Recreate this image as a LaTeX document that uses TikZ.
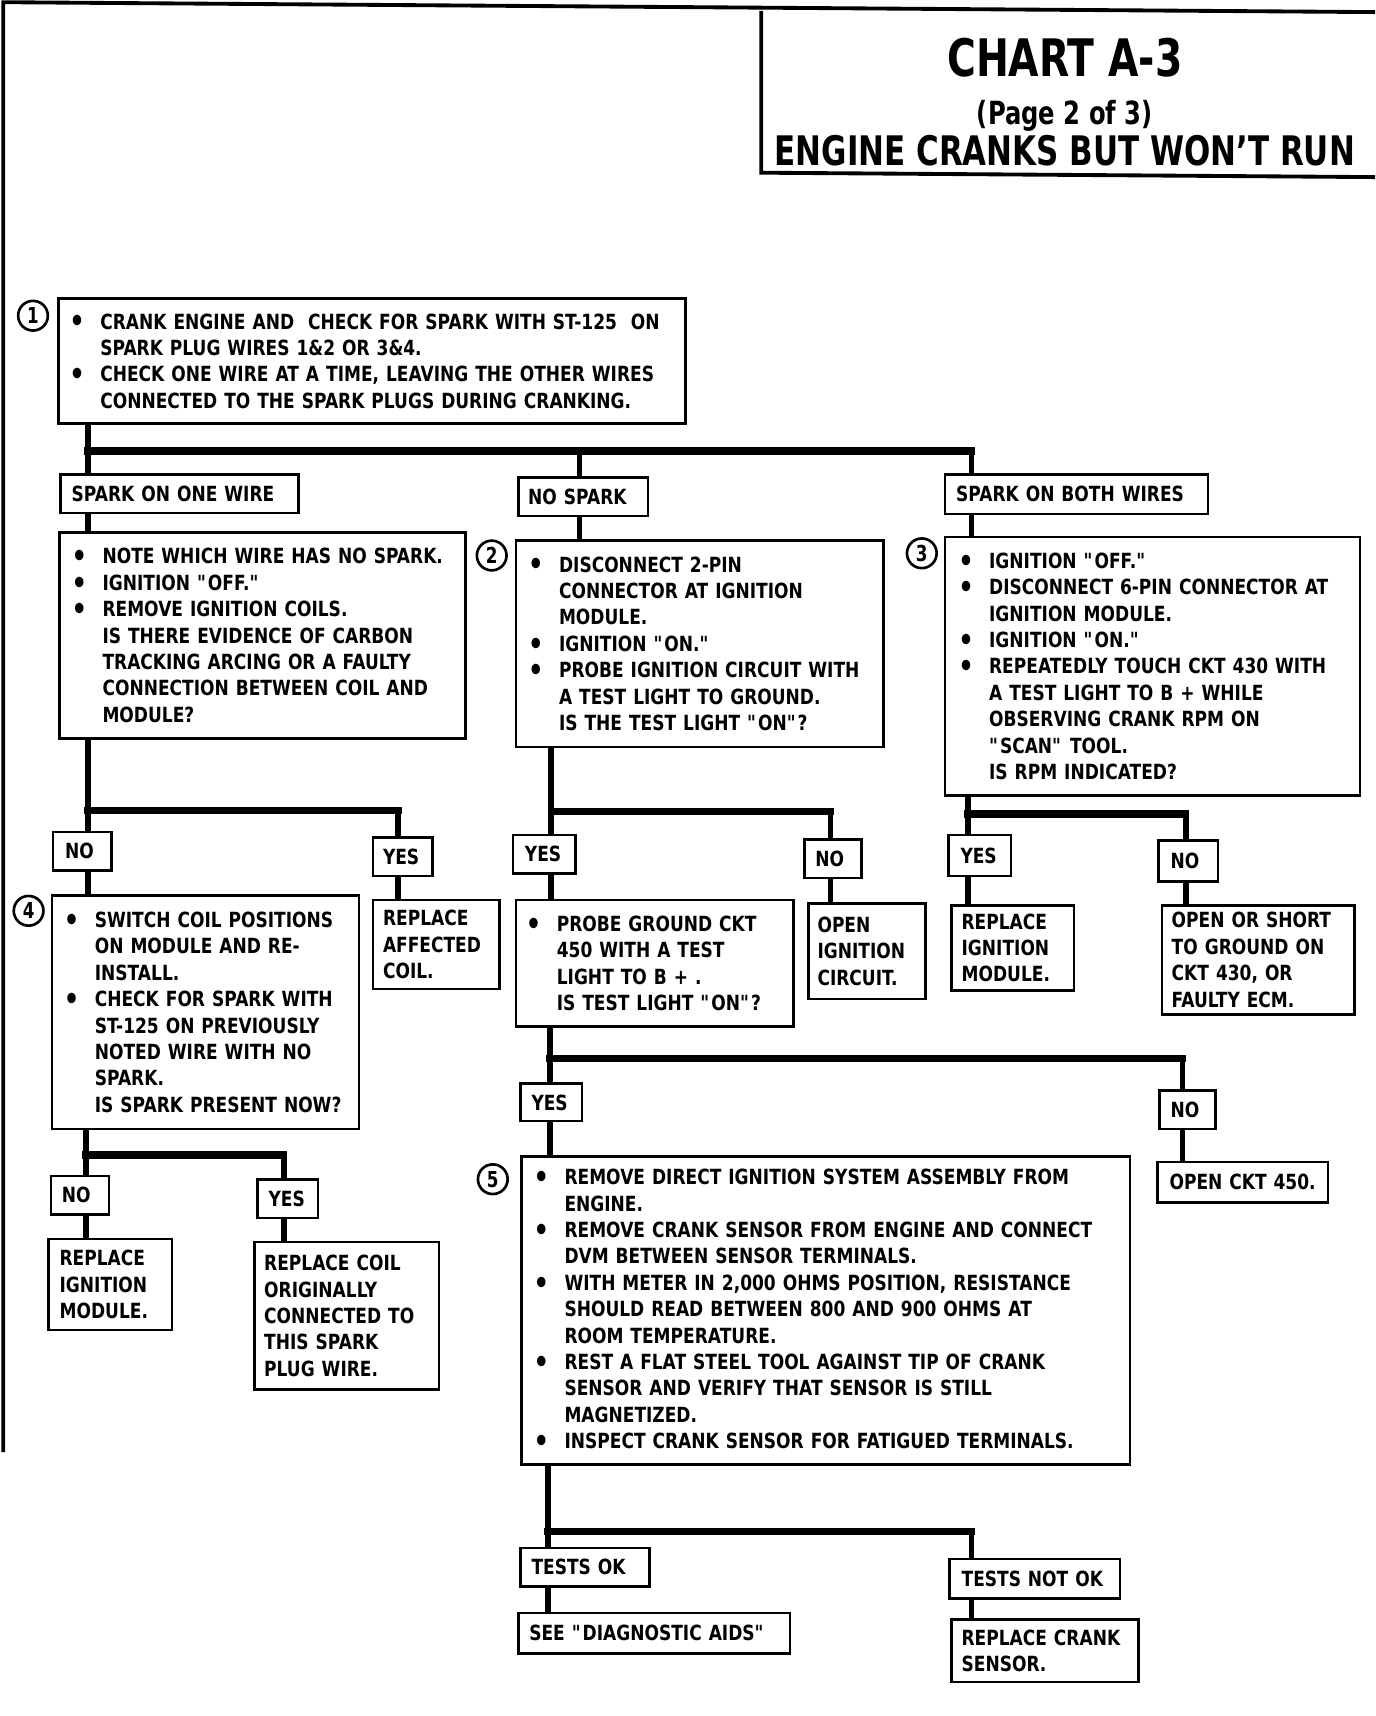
\documentclass[tikz,border=0pt]{standalone}
\usepackage{fontspec}
\setmainfont{DejaVu Sans}[FakeStretch=0.815]
\newfontfamily\titlefont{DejaVu Sans}[FakeStretch=0.76]
\usepackage{tikz}

\newcommand\chartfont{\fontsize{19}{24}\selectfont\bfseries}
\newcommand\bul{\leavevmode\llap{\raisebox{-2.5pt}{\fontsize{27}{27}\selectfont\textbullet}\hspace{14pt}}}
\newcommand\btext[2]{\parindent=0pt\leftskip=#1pt\rightskip=-80pt plus 1fil\relax #2\par}
\newcommand\q{\textquotedbl}

\tikzset{
  tbox/.style={draw, line width=2.4pt, anchor=north west, inner xsep=0pt,
    inner ysep=0pt, align=left, font=\chartfont},
  num/.style={circle, draw, line width=2.4pt, minimum size=27pt, inner sep=0pt,
    font=\titlefont\fontsize{20}{20}\selectfont\bfseries},
  wire/.style={line width=5pt},
  bar/.style={line width=6.5pt, line cap=rect},
  frame/.style={line width=3.5pt}
}

\begin{document}
\begin{tikzpicture}[x=1pt, y=-1pt]
  \useasboundingbox (0,0) rectangle (1250,1560);

  % page frame and title block
  \draw[frame] (3,1320) -- (3,2) -- (1250,11);
  \draw[frame] (692,10) -- (692,157) -- (1250,161);
  \node[anchor=base, font=\titlefont\fontsize{47}{50}\selectfont\bfseries] (chart) at (968,70) {CHART A-3};
  \node[anchor=base, font=\titlefont\fontsize{29}{32}\selectfont\bfseries] (page) at (968,113) {(Page 2 of 3)};
  \node[anchor=base, font=\titlefont\fontsize{37}{40}\selectfont\bfseries] (headline) at (968,150) {ENGINE CRANKS BUT WON’T RUN};

  % step 1
  \node[num] (c1) at (30,287) {1};
  \node[tbox, text width=570pt, minimum height=114pt] (b1) at (52,270) {\btext{38}{%
    \bul CRANK ENGINE AND\ \ CHECK FOR SPARK WITH ST-125\ \ ON\\
    SPARK PLUG WIRES 1\&2 OR 3\&4.\\
    \bul CHECK ONE WIRE AT A TIME, LEAVING THE OTHER WIRES\\
    CONNECTED TO THE SPARK PLUGS DURING CRANKING.}};

  \node[tbox, text width=216pt, minimum height=35pt] (sp1) at (54,430) {\btext{10}{SPARK ON ONE WIRE}};
  \node[tbox, text width=118pt, minimum height=35pt] (sp2) at (470,433) {\btext{9}{NO SPARK}};
  \node[tbox, text width=239pt, minimum height=36pt] (sp3) at (858,430) {\btext{10}{SPARK ON BOTH WIRES}};

  % spark on one wire
  \node[tbox, text width=369pt, minimum height=187pt] (bA) at (53,483) {\btext{39}{%
    \bul NOTE WHICH WIRE HAS NO SPARK.\\
    \bul IGNITION \q OFF.\q\\
    \bul REMOVE IGNITION COILS.\\
    IS THERE EVIDENCE OF CARBON\\
    TRACKING ARCING OR A FAULTY\\
    CONNECTION BETWEEN COIL AND\\
    MODULE?}};

  % step 2
  \node[num] (c2) at (447,505) {2};
  \node[tbox, text width=334pt, minimum height=188pt] (b2) at (468,490) {\btext{39}{%
    \bul DISCONNECT 2-PIN\\
    CONNECTOR AT IGNITION\\
    MODULE.\\
    \bul IGNITION \q ON.\q\\
    \bul PROBE IGNITION CIRCUIT WITH\\
    A TEST LIGHT TO GROUND.\\
    IS THE TEST LIGHT \q ON\q ?}};

  % step 3
  \node[num] (c3) at (838,503) {3};
  \node[tbox, text width=377pt, minimum height=235pt] (b3) at (858,487) {\btext{40}{%
    \bul IGNITION \q OFF.\q\\
    \bul DISCONNECT 6-PIN CONNECTOR AT\\
    IGNITION MODULE.\\
    \bul IGNITION \q ON.\q\\
    \bul REPEATEDLY TOUCH CKT 430 WITH\\
    A TEST LIGHT TO B + WHILE\\
    OBSERVING CRANK RPM ON\\
    \q SCAN\q\ TOOL.\\
    IS RPM INDICATED?}};

  \node[tbox, text width=53pt, minimum height=35pt] (no1) at (47,755) {\btext{11}{NO}};
  \node[tbox, text width=54pt, minimum height=35pt] (yes1) at (338,760) {\btext{9}{YES}};
  \node[tbox, text width=57pt, minimum height=35pt] (yes2) at (465,758) {\btext{11}{YES}};
  \node[tbox, text width=52pt, minimum height=35pt] (no2) at (730,762) {\btext{10}{NO}};
  \node[tbox, text width=57pt, minimum height=37pt] (yes3) at (861,758) {\btext{11}{YES}};
  \node[tbox, text width=54pt, minimum height=37pt] (no3) at (1052,763) {\btext{11}{NO}};

  % step 4
  \node[num] (c4) at (26,828) {4};
  \node[tbox, text width=279pt, minimum height=212pt] (b4) at (46,813) {\btext{39}{%
    \bul SWITCH COIL POSITIONS\\
    ON MODULE AND RE-\\
    INSTALL.\\
    \bul CHECK FOR SPARK WITH\\
    ST-125 ON PREVIOUSLY\\
    NOTED WIRE WITH NO\\
    SPARK.\\
    IS SPARK PRESENT NOW?}};

  \node[tbox, text width=115pt, minimum height=81pt] (rac) at (338,817) {\btext{9}{%
    REPLACE\\ AFFECTED\\ COIL.}};
  \node[tbox, text width=252pt, minimum height=115pt] (bP) at (468,817) {\btext{37}{%
    \bul PROBE GROUND CKT\\
    450 WITH A TEST\\
    LIGHT TO B + .\\
    IS TEST LIGHT \q ON\q ?}};
  \node[tbox, text width=106pt, minimum height=87pt] (oic) at (734,820) {\btext{8}{%
    OPEN\\ IGNITION\\ CIRCUIT.}};
  \node[tbox, text width=111pt, minimum height=77pt] (rim1) at (864,822) {\btext{9}{%
    REPLACE\\ IGNITION\\ MODULE.}};
  \node[tbox, text width=175pt, minimum height=99pt] (osg) at (1055,822) {\btext{9}{%
    OPEN OR SHORT\\ TO GROUND ON\\ CKT 430, OR\\ FAULTY ECM.}};

  \node[tbox, text width=56pt, minimum height=34pt] (yes4) at (472,984) {\btext{10}{YES}};
  \node[tbox, text width=51pt, minimum height=35pt] (no4) at (1053,990) {\btext{10}{NO}};
  \node[tbox, text width=155pt, minimum height=37pt] (oc450) at (1051,1055) {\btext{11}{OPEN CKT 450.}};

  % step 5
  \node[num] (c5) at (448,1072) {5};
  \node[tbox, text width=553pt, minimum height=280pt] (b5) at (473,1050) {\btext{39}{%
    \bul REMOVE DIRECT IGNITION SYSTEM ASSEMBLY FROM\\
    ENGINE.\\
    \bul REMOVE CRANK SENSOR FROM ENGINE AND CONNECT\\
    DVM BETWEEN SENSOR TERMINALS.\\
    \bul WITH METER IN 2,000 OHMS POSITION, RESISTANCE\\
    SHOULD READ BETWEEN 800 AND 900 OHMS AT\\
    ROOM TEMPERATURE.\\
    \bul REST A FLAT STEEL TOOL AGAINST TIP OF CRANK\\
    SENSOR AND VERIFY THAT SENSOR IS STILL\\
    MAGNETIZED.\\
    \bul INSPECT CRANK SENSOR FOR FATIGUED TERMINALS.}};

  \node[tbox, text width=53pt, minimum height=35pt] (no5) at (45,1068) {\btext{10}{NO}};
  \node[tbox, text width=55pt, minimum height=35pt] (yes5) at (233,1071) {\btext{10}{YES}};
  \node[tbox, text width=112pt, minimum height=83pt] (rim2) at (43,1125) {\btext{10}{%
    REPLACE\\ IGNITION\\ MODULE.}};
  \node[tbox, text width=168pt, minimum height=134pt] (rcoil) at (230,1128) {\btext{9}{%
    REPLACE COIL\\ ORIGINALLY\\ CONNECTED TO\\ THIS SPARK\\ PLUG WIRE.}};

  \node[tbox, text width=117pt, minimum height=35pt] (tok) at (472,1406) {\btext{10}{TESTS OK}};
  \node[tbox, text width=155pt, minimum height=36pt] (tnok) at (862,1416) {\btext{11}{TESTS NOT OK}};
  \node[tbox, text width=247pt, minimum height=37pt] (sda) at (470,1465) {\btext{10}{SEE \q DIAGNOSTIC AIDS\q}};
  \node[tbox, text width=170pt, minimum height=57pt] (rcs) at (864,1471) {\btext{9}{%
    REPLACE CRANK\\ SENSOR.}};

  % junctions
  \coordinate (j1) at (80,410);   \coordinate (j1m) at (527,410);  \coordinate (j1r) at (883,410);
  \coordinate (jA) at (80,737);   \coordinate (jAr) at (362,737);
  \coordinate (jB) at (501,738);  \coordinate (jBr) at (755,738);
  \coordinate (jC) at (880,740);  \coordinate (jCr) at (1078,740);
  \coordinate (jP) at (500,962);  \coordinate (jPr) at (1075,962);
  \coordinate (jD) at (78,1050);  \coordinate (jDr) at (258,1050);
  \coordinate (jE) at (498,1392); \coordinate (jEr) at (883,1392);

  % connectors
  \draw[wire] (b1.south -| j1) -- (sp1.north -| j1);
  \draw[wire] (j1m) -- (sp2.north -| j1m);
  \draw[wire] (j1r) -- (sp3.north -| j1r);
  \draw[bar] (j1) -- (j1r);
  \draw[wire] (sp1.south -| j1) -- (bA.north -| j1);
  \draw[wire] (sp2.south -| j1m) -- (b2.north -| j1m);
  \draw[wire] (sp3.south -| j1r) -- (b3.north -| j1r);

  \draw[wire] (bA.south -| jA) -- (no1.north -| jA);
  \draw[wire] (jAr) -- (yes1.north -| jAr);
  \draw[bar] (jA) -- (jAr);
  \draw[wire] (no1.south -| jA) -- (b4.north -| jA);
  \draw[wire] (yes1.south -| jAr) -- (rac.north -| jAr);

  \draw[wire] (b2.south -| jB) -- (yes2.north -| jB);
  \draw[wire] (jBr) -- (no2.north -| jBr);
  \draw[bar] (jB) -- (jBr);
  \draw[wire] (yes2.south -| jB) -- (bP.north -| jB);
  \draw[wire] (no2.south -| jBr) -- (oic.north -| jBr);

  \draw[wire] (b3.south -| jC) -- (yes3.north -| jC);
  \draw[wire] (jCr) -- (no3.north -| jCr);
  \draw[bar] (jC) -- (jCr);
  \draw[wire] (yes3.south -| jC) -- (rim1.north -| jC);
  \draw[wire] (no3.south -| jCr) -- (osg.north -| jCr);

  \draw[wire] (bP.south -| jP) -- (yes4.north -| jP);
  \draw[wire] (jPr) -- (no4.north -| jPr);
  \draw[bar] (jP) -- (jPr);
  \draw[wire] (yes4.south -| jP) -- (b5.north -| jP);
  \draw[wire] (no4.south -| jPr) -- (oc450.north -| jPr);

  \draw[wire] (b4.south -| jD) -- (no5.north -| jD);
  \draw[wire] (jDr) -- (yes5.north -| jDr);
  \draw[bar] (jD) -- (jDr);
  \draw[wire] (no5.south -| jD) -- (rim2.north -| jD);
  \draw[wire] (yes5.south -| jDr) -- (rcoil.north -| jDr);

  \draw[wire] (b5.south -| jE) -- (tok.north -| jE);
  \draw[wire] (jEr) -- (tnok.north -| jEr);
  \draw[bar] (jE) -- (jEr);
  \draw[wire] (tok.south -| jE) -- (sda.north -| jE);
  \draw[wire] (tnok.south -| jEr) -- (rcs.north -| jEr);
\end{tikzpicture}
\end{document}
